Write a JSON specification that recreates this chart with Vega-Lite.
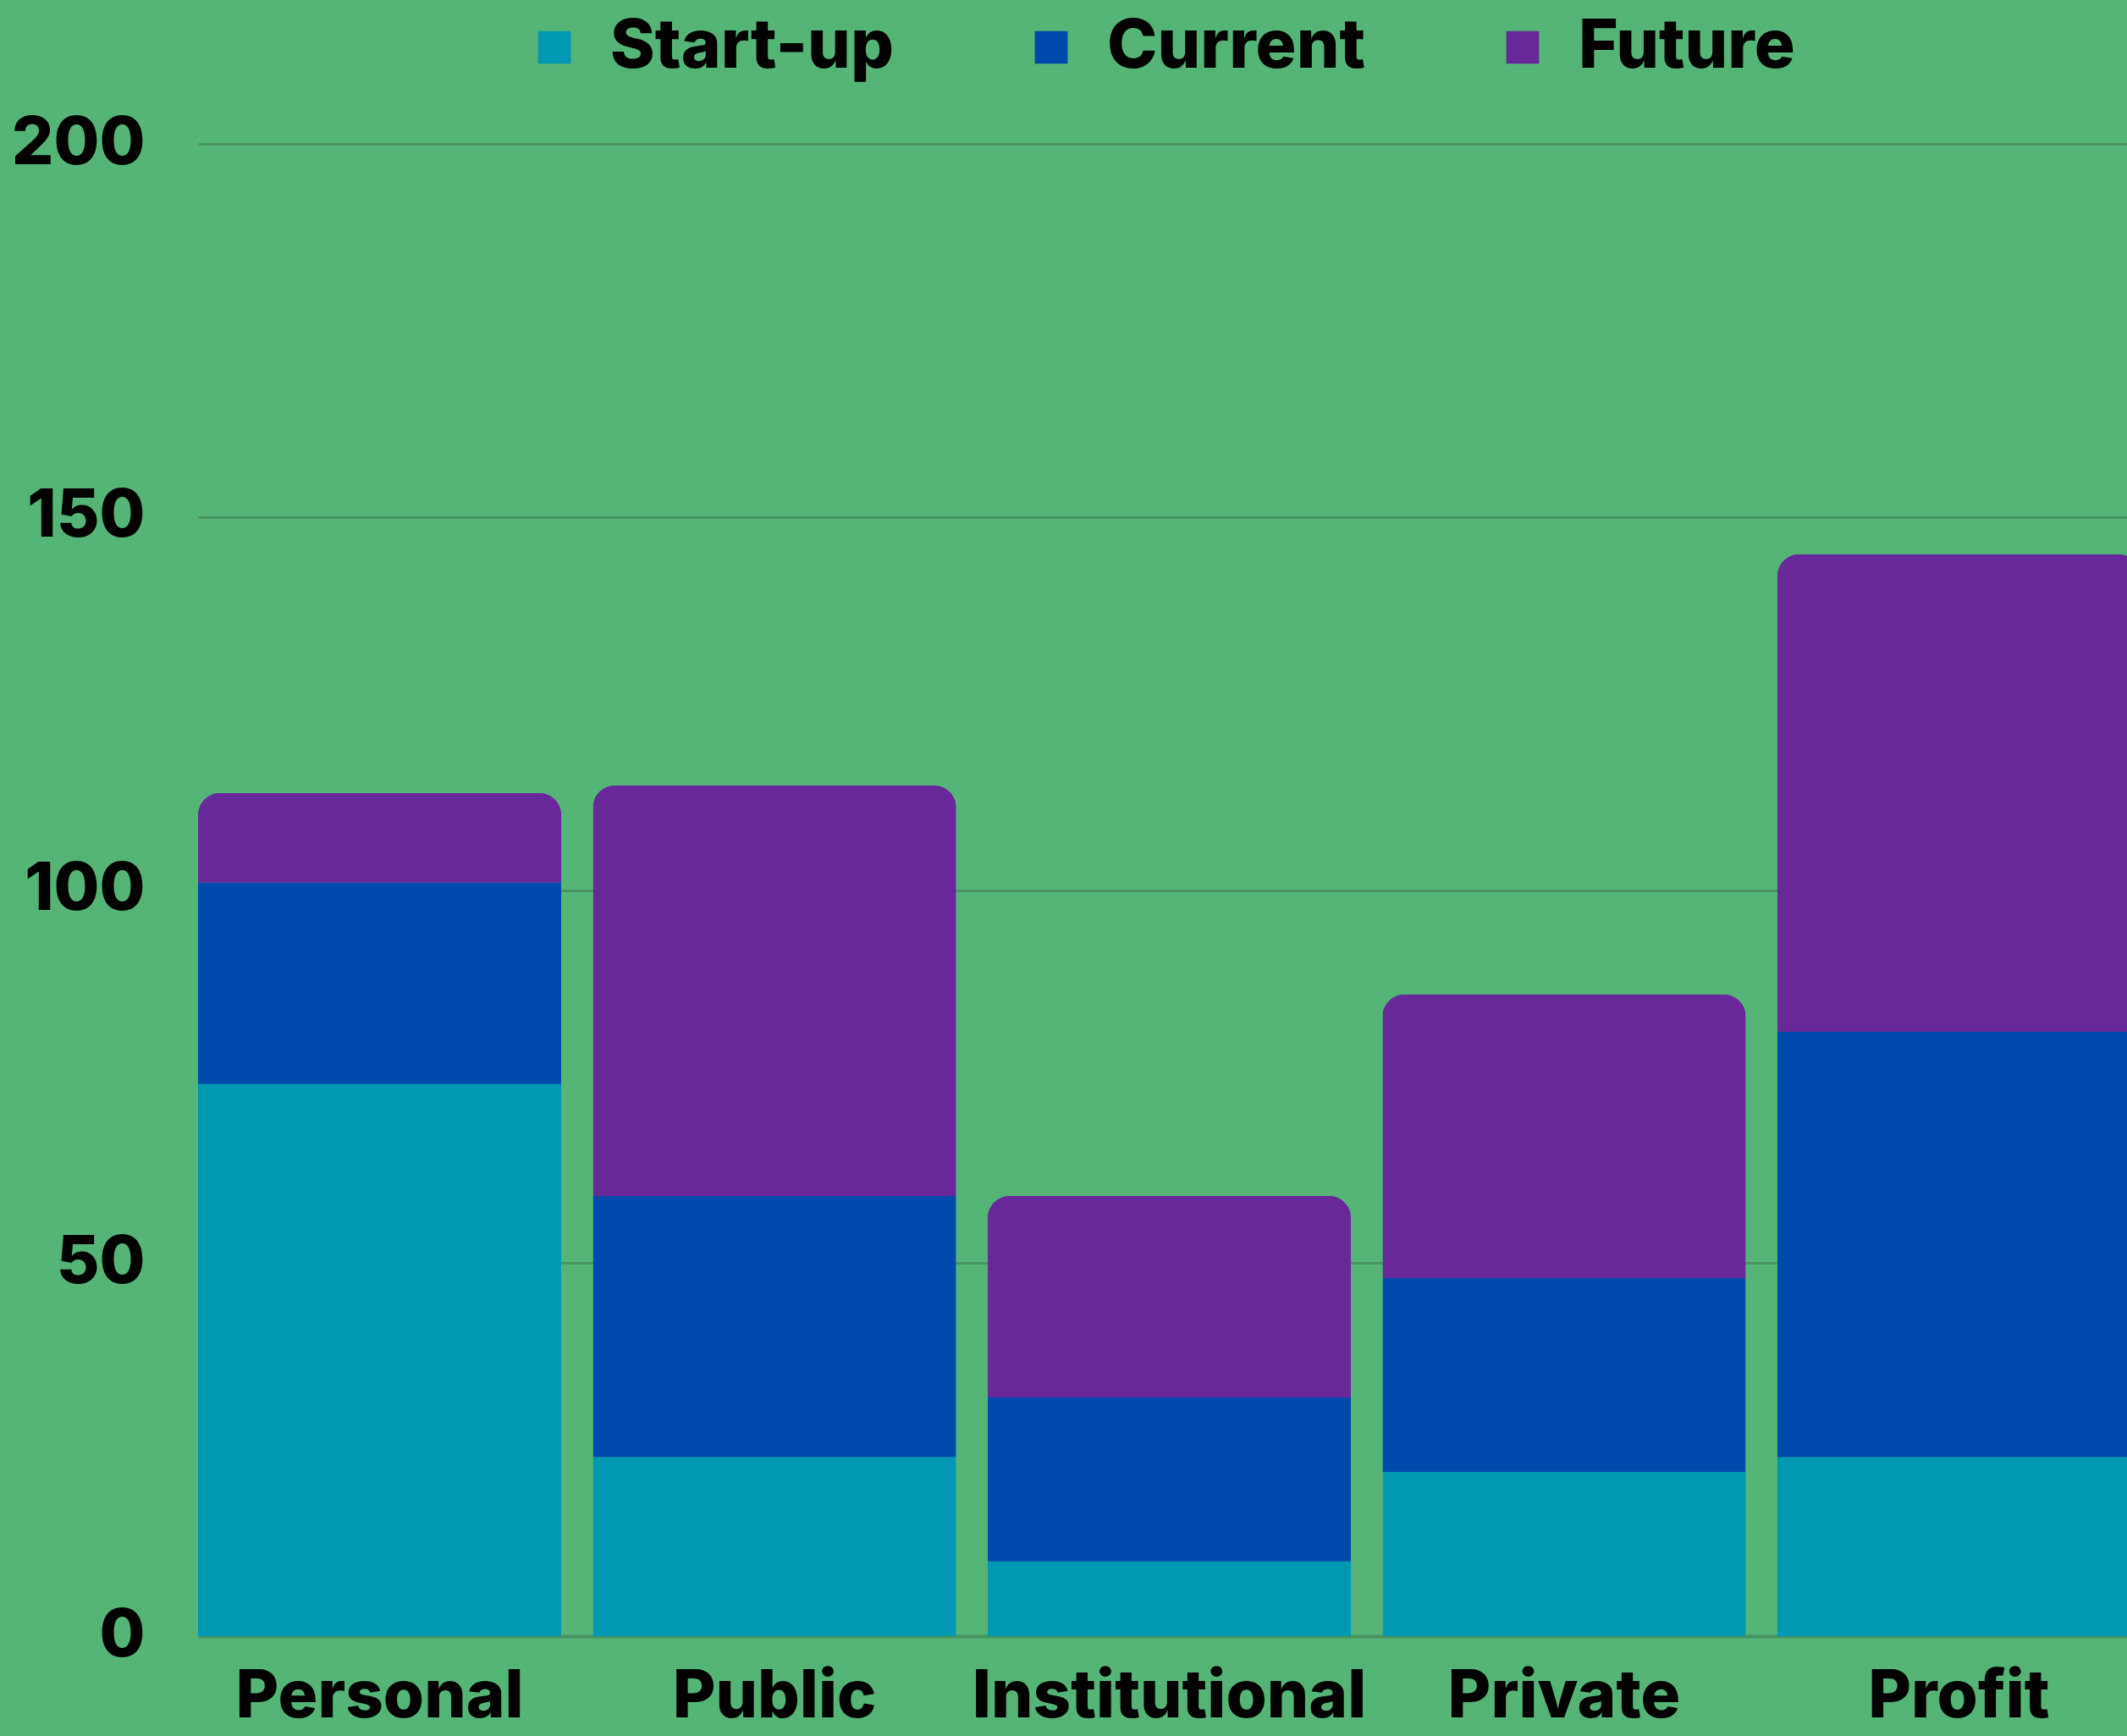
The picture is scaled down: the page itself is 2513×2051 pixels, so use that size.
{
  "$schema": "https://vega.github.io/schema/vega-lite/v6.json",
  "autosize": "none",
  "padding": {"left": 234, "top": 170, "right": 0, "bottom": 118},
  "width": 2295,
  "height": 1763,
  "background": "#55b577",
  "config": {
    "view": {"stroke": null},
    "font": "Inter",
    "axis": {"labelFont": "Inter", "labelFontWeight": 800, "labelFontSize": 78, "labelColor": "#000000", "labelLimit": 0},
    "legend": {"labelFont": "Inter", "labelFontWeight": 800, "labelFontSize": 80, "labelColor": "#000000", "labelLimit": 0}
  },
  "data": {
    "values": [
      {"category": "Personal", "series": "Start-up", "value": 74},
      {"category": "Personal", "series": "Current", "value": 27},
      {"category": "Personal", "series": "Future", "value": 12},
      {"category": "Public", "series": "Start-up", "value": 24},
      {"category": "Public", "series": "Current", "value": 35},
      {"category": "Public", "series": "Future", "value": 55},
      {"category": "Institutional", "series": "Start-up", "value": 10},
      {"category": "Institutional", "series": "Current", "value": 22},
      {"category": "Institutional", "series": "Future", "value": 27},
      {"category": "Private", "series": "Start-up", "value": 22},
      {"category": "Private", "series": "Current", "value": 26},
      {"category": "Private", "series": "Future", "value": 38},
      {"category": "Profit", "series": "Start-up", "value": 24},
      {"category": "Profit", "series": "Current", "value": 57},
      {"category": "Profit", "series": "Future", "value": 64}
    ]
  },
  "transform": [
    {"calculate": "indexof(['Start-up','Current','Future'], datum.series)", "as": "stackOrder"}
  ],
  "mark": {"type": "bar", "cornerRadiusTopLeft": 26, "cornerRadiusTopRight": 26},
  "encoding": {
    "x": {
      "field": "category", "type": "nominal",
      "sort": ["Personal", "Public", "Institutional", "Private", "Profit"],
      "scale": {"paddingInner": 0.08, "paddingOuter": 0},
      "axis": {"title": null, "labelAngle": 0, "ticks": false, "domain": true, "domainColor": "#47935f", "domainWidth": 4, "labelPadding": 33, "grid": false}
    },
    "y": {
      "field": "value", "type": "quantitative", "aggregate": "sum",
      "scale": {"domain": [0, 200], "nice": false},
      "axis": {"title": null, "values": [0, 50, 100, 150, 200], "ticks": false, "domain": false, "grid": true, "gridColor": "#47935f", "gridWidth": 3, "labelPadding": 63}
    },
    "color": {
      "field": "series", "type": "nominal",
      "scale": {"domain": ["Start-up", "Current", "Future"], "range": ["#0098b3", "#004aad", "#68289a"]},
      "legend": {
        "title": null, "orient": "none", "direction": "horizontal", "legendX": 381, "legendY": -154,
        "symbolType": "square", "symbolSize": 1500, "symbolStrokeWidth": 0, "symbolOpacity": 1,
        "labelOffset": 26, "columnPadding": 146, "padding": 0
      }
    },
    "order": {"field": "stackOrder", "type": "quantitative"}
  }
}
